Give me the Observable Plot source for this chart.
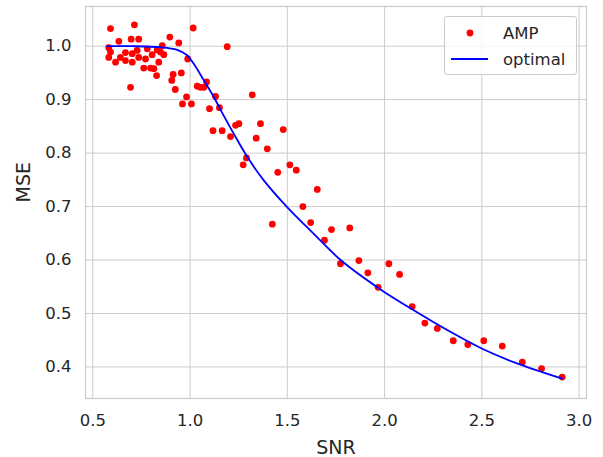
<!DOCTYPE html>
<html><head><meta charset="utf-8">
<script src="https://cdn.jsdelivr.net/npm/d3@7"></script>
<script src="https://cdn.jsdelivr.net/npm/@observablehq/plot@0.6"></script>
<style>
body{margin:0;background:#fff;}
#wrap{position:relative;width:603px;height:457px;font-family:"DejaVu Sans",sans-serif;}
#legend{position:absolute;left:444px;top:16px;width:131px;height:57px;border:1px solid #cccccc;border-radius:3px;background:rgba(255,255,255,0.8);}
#legend svg{position:absolute;left:0;top:0;}
</style></head><body><div id="wrap"></div>
<script>
const ampSNR = [0.591,0.714,0.634,0.697,0.736,0.582,0.591,0.582,0.617,0.642,0.668,0.668,0.703,0.703,0.728,0.736,0.780,0.771,0.805,0.831,0.762,0.797,0.839,0.828,0.865,0.694,0.857,0.896,0.942,0.848,0.814,0.913,0.955,0.906,0.924,0.988,1.016,1.191,1.037,1.054,1.071,1.085,0.982,0.961,1.007,1.131,1.100,1.151,1.320,1.118,1.165,1.234,1.251,1.208,1.362,1.479,1.340,1.397,1.290,1.273,1.451,1.513,1.546,1.654,1.580,1.620,1.423,1.727,1.821,1.691,1.773,1.868,1.914,2.022,2.077,1.967,2.142,2.207,2.271,2.353,2.428,2.510,2.605,2.708,2.807,2.913];
const ampMSE = [1.033,1.040,1.009,1.013,1.013,0.997,0.989,0.979,0.970,0.979,0.988,0.973,0.986,0.970,0.992,0.979,0.995,0.976,0.984,0.993,0.959,0.959,0.970,0.945,0.984,0.923,1.001,1.017,1.006,0.989,0.958,0.947,0.950,0.936,0.919,0.976,1.034,0.999,0.925,0.923,0.923,0.933,0.905,0.892,0.892,0.906,0.883,0.885,0.909,0.842,0.842,0.852,0.855,0.831,0.855,0.844,0.828,0.808,0.791,0.778,0.764,0.778,0.768,0.732,0.700,0.670,0.667,0.657,0.660,0.637,0.593,0.599,0.576,0.593,0.573,0.549,0.513,0.482,0.472,0.449,0.442,0.449,0.439,0.409,0.397,0.381];
const optSNR = [0.574,0.700,0.848,0.934,0.985,1.019,1.071,1.122,1.173,1.225,1.294,1.379,1.499,1.636,1.774,1.979,2.150,2.322,2.502,2.664,2.913];
const optMSE = [1.000,1.000,0.998,0.993,0.983,0.967,0.936,0.905,0.870,0.836,0.793,0.749,0.699,0.649,0.600,0.545,0.506,0.469,0.434,0.409,0.378];
const xTicks = [0.5,1.0,1.5,2.0,2.5,3.0];
const yTicks = [0.4,0.5,0.6,0.7,0.8,0.9,1.0];
const seriesNames = ["AMP","optimal"];
const seriesColors = ["red","blue"];

const amp = ampSNR.map((x,i)=>({x, y: ampMSE[i]}));
const opt = optSNR.map((x,i)=>({x, y: optMSE[i]}));
const ink = "#262626";
const grid = "#cccccc";

const chart = Plot.plot({
  width: 603, height: 457,
  marginLeft: 85, marginRight: 17, marginTop: 6, marginBottom: 59,
  style: {fontFamily: "DejaVu Sans, sans-serif", fontSize: "16.5px", color: ink, background: "#fff"},
  x: {domain: [0.4625, 3.038]},
  y: {domain: [0.341, 1.0742]},
  marks: [
    Plot.gridX(xTicks, {stroke: grid, strokeOpacity: 1, strokeWidth: 1}),
    Plot.gridY(yTicks, {stroke: grid, strokeOpacity: 1, strokeWidth: 1}),
    Plot.frame({stroke: grid, strokeWidth: 1.25}),
    Plot.axisX(xTicks, {tickSize: 0, tickPadding: 16, tickFormat: d3.format(".1f"), label: null, fill: ink, fontSize: 16.5}),
    Plot.axisY(yTicks, {tickSize: 0, tickPadding: 14, tickFormat: d3.format(".1f"), label: null, fill: ink, fontSize: 16.5}),
    Plot.text(["SNR"], {frameAnchor: "bottom", dy: 55, fontSize: 19, fill: ink}),
    Plot.text(["MSE"], {frameAnchor: "left", dx: -62, rotate: -90, fontSize: 19, fill: ink}),
    Plot.dot(amp, {x: "x", y: "y", r: 3.4, fill: seriesColors[0], stroke: "none"}),
    Plot.line(opt, {x: "x", y: "y", stroke: seriesColors[1], strokeWidth: 1.8, curve: "catmull-rom"})
  ]
});
const wrap = document.getElementById("wrap");
wrap.appendChild(chart);

const leg = document.createElement("div");
leg.id = "legend";
leg.innerHTML = `<svg width="131" height="57" font-family="DejaVu Sans, sans-serif" font-size="16.5">
  <circle cx="25" cy="16" r="3.4" fill="${seriesColors[0]}"/>
  <line x1="6" x2="43" y1="42" y2="42" stroke="${seriesColors[1]}" stroke-width="1.8"/>
  <text x="58" y="16" dominant-baseline="central" fill="${ink}">${seriesNames[0]}</text>
  <text x="58" y="42" dominant-baseline="central" fill="${ink}">${seriesNames[1]}</text>
</svg>`;
wrap.appendChild(leg);
</script>
</body></html>
